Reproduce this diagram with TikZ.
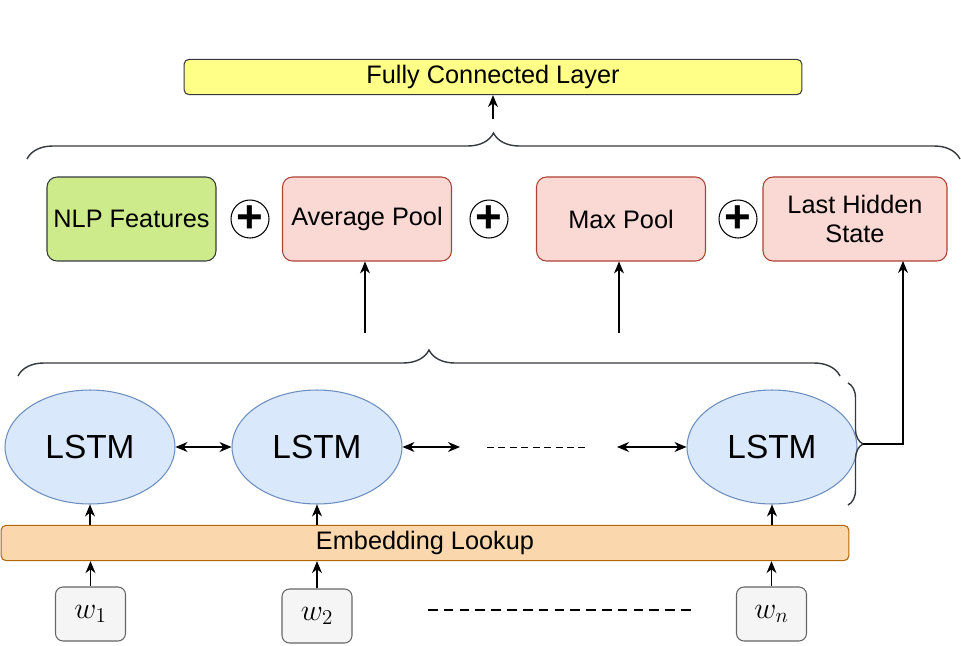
\documentclass[tikz,border=0pt]{standalone}
\usepackage{fontspec}
\setmainfont{Liberation Sans}
\usetikzlibrary{arrows.meta,shapes.geometric,decorations.pathreplacing}
\definecolor{nlpfill}{HTML}{CDEB8B}
\definecolor{darkline}{HTML}{36393D}
\definecolor{poolfill}{HTML}{FAD9D5}
\definecolor{poolline}{HTML}{AE4132}
\definecolor{cellfill}{HTML}{DAE8FC}
\definecolor{cellline}{HTML}{6C8EBF}
\definecolor{embfill}{HTML}{FAD7AC}
\definecolor{embline}{HTML}{B46504}
\definecolor{fcfill}{HTML}{FFFF88}
\definecolor{wordfill}{HTML}{F5F5F5}
\definecolor{wordline}{HTML}{666666}
\begin{document}
\begin{tikzpicture}[x=0.02cm,y=-0.02cm,>={Stealth[length=2.4mm,width=2mm]},
  font=\fontsize{14.4}{17}\selectfont,
  box/.style={draw,rounded corners=0.2cm,align=center,minimum height=1.68cm,minimum width=3.38cm,inner sep=2pt,line width=0.6pt},
  pool/.style={box,fill=poolfill,draw=poolline},
  cell/.style={ellipse,draw=cellline,fill=cellfill,minimum width=3.4cm,minimum height=2.28cm,line width=0.6pt,font=\fontsize{19}{22}\selectfont},
  word/.style={draw=wordline,fill=wordfill,rounded corners=0.15cm,minimum width=1.4cm,minimum height=1.08cm,line width=0.6pt,font=\fontsize{17}{20}\selectfont},
  plus/.style={circle,draw,minimum size=0.76cm,inner sep=0pt,line width=0.6pt,font=\fontsize{26}{26}\selectfont\bfseries},
  brc/.style={decorate,decoration={brace,amplitude=0.52cm},line width=0.8pt,draw=darkline}]
\useasboundingbox (0,0) rectangle (961,646);
% output layer
\node[draw=darkline,fill=fcfill,rounded corners=0.1cm,minimum width=12.36cm,minimum height=0.6cm,line width=0.6pt] (fc) at (493,77) {Fully Connected Layer};
% pooled features
\node[box,fill=nlpfill,draw=darkline] (nlp) at (131.5,219) {NLP Features};
\node[pool] (avg) at (367,219) {Average Pool};
\node[pool] (max) at (621,219) {Max Pool};
\node[pool,minimum width=3.68cm] (last) at (855,219) {Last Hidden\\State};
\node[plus] (p1) at (250,219) {+};
\node[plus] (p2) at (489,219) {+};
\node[plus] (p3) at (738,219) {+};
\draw[brc] (27,159) -- (960,159);
\coordinate (fcin) at (493,119);
\draw[->,line width=0.6pt] (fcin) -- (fc.south);
% recurrent layer
\node[cell] (l1) at (90,447) {LSTM};
\node[cell] (l2) at (317,447) {LSTM};
\node[cell] (l3) at (772,447) {LSTM};
\coordinate (r2) at (460,447);
\coordinate (r3) at (617,447);
\draw[<->,line width=0.6pt] (l1.east) -- (l2.west);
\draw[<->,line width=0.6pt] (l2.east) -- (r2);
\draw[<->,line width=0.6pt] (r3) -- (l3.west);
\draw[dashed,line width=0.5pt,dash pattern=on 4pt off 2.5pt] (487,447) -- (586,447);
\draw[brc] (18,376) -- (840,376);
\coordinate (a1) at (365,333);
\coordinate (a2) at (619,333);
\draw[->,line width=0.6pt] (a1) -- (a1 |- avg.south);
\draw[->,line width=0.6pt] (a2) -- (a2 |- max.south);
\draw[brc,decoration={brace,amplitude=0.3cm}] (848,383) -- (848,505);
\coordinate (rb) at (863,444);
\coordinate (lin) at (903,261);
\draw[->,line width=0.6pt] (rb) -| (lin);
% embedding and words
\node[draw=embline,fill=embfill,rounded corners=0.1cm,minimum width=16.96cm,minimum height=0.56cm,line width=0.6pt] (emb) at (425,543) {Embedding Lookup};
\node[word] (w1) at (90.5,614) {$w_1$};
\node[word] (w2) at (317,616) {$w_2$};
\node[word] (wn) at (771.5,614) {$w_n$};
\foreach \l/\w in {l1/w1,l2/w2,l3/wn}{
  \draw[->,line width=0.6pt] (\w.north) -- (\w.north |- emb.south);
  \draw[->,line width=0.6pt] (\l.south |- emb.north) -- (\l.south);}
\draw[line width=1.3pt,dash pattern=on 5.5pt off 3.5pt] (428,610) -- (692,610);
\end{tikzpicture}
\end{document}
